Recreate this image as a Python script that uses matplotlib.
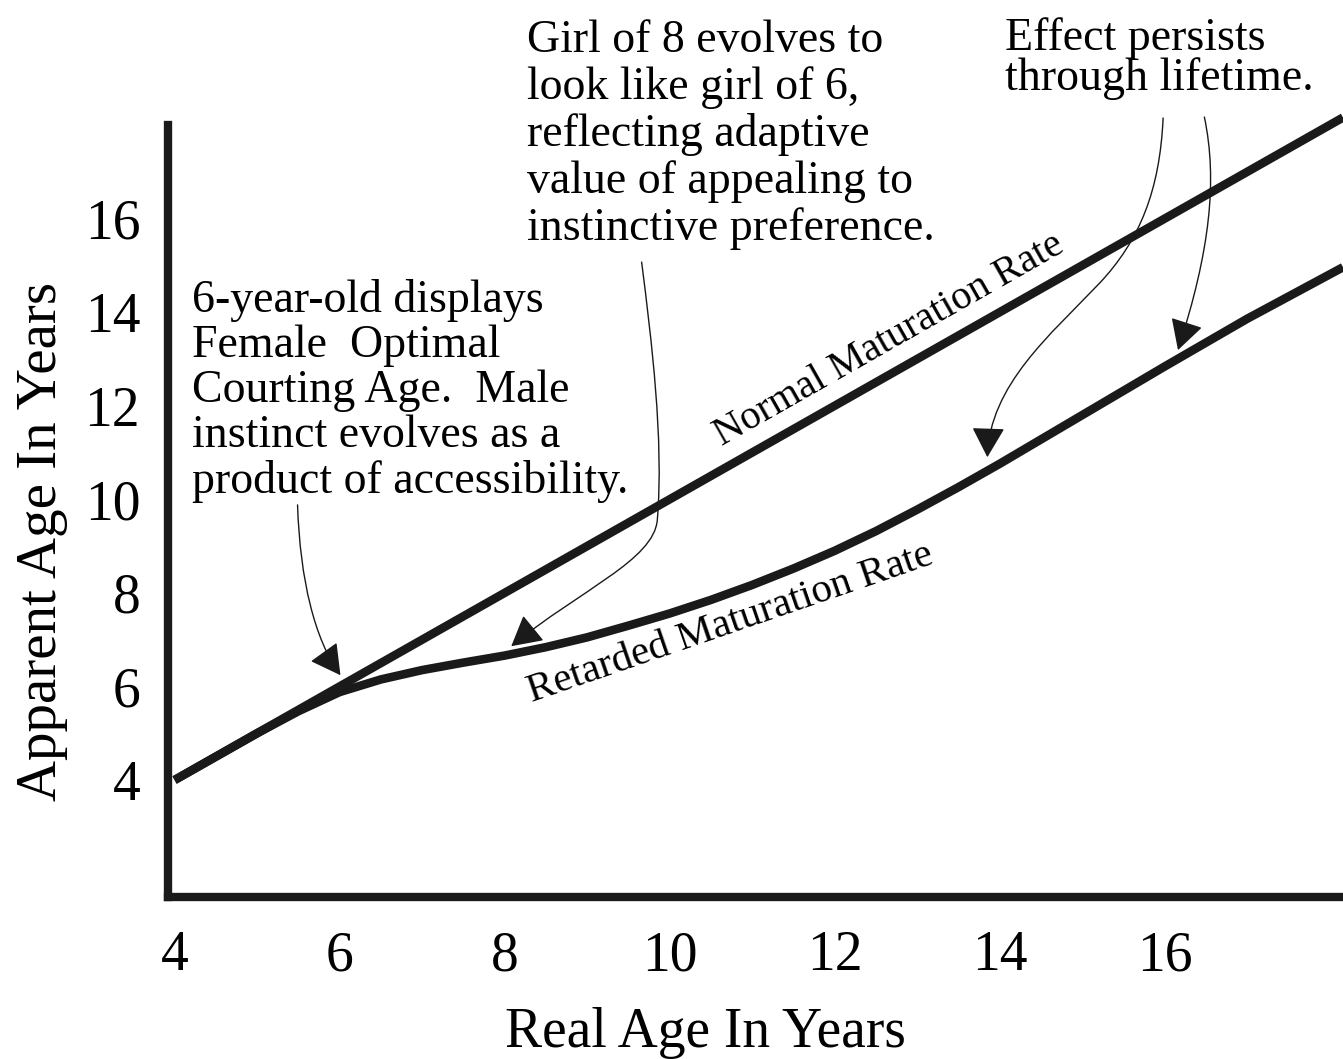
import matplotlib.pyplot as plt
from matplotlib.patches import FancyArrowPatch
from matplotlib.path import Path

plt.rcParams['font.family'] = ['Liberation Serif', 'DejaVu Serif']

# Normal maturation: apparent age tracks real age
normal_real = [4, 6, 8, 10, 12, 14, 16, 18.16]
normal_apparent = [4, 6, 8, 10, 12, 14, 16, 18.16]

# Retarded maturation: follows normal until ~6, then lags behind
retarded_real = [4, 5, 5.5, 6, 6.5, 7, 7.5, 8, 8.5, 9, 9.5, 10, 10.5, 11, 11.5,
                 12, 12.5, 13, 13.5, 14, 15, 16, 17, 18.16]
retarded_apparent = [4, 5, 5.47, 5.88, 6.15, 6.35, 6.51, 6.66, 6.84, 7.05, 7.3, 7.56,
                     7.85, 8.17, 8.52, 8.9, 9.32, 9.78, 10.26, 10.76, 11.8, 12.84,
                     13.86, 14.96]

ticks = [4, 6, 8, 10, 12, 14, 16]

W, H = 1343, 1059
fig = plt.figure(figsize=(W / 100, H / 100), dpi=100)
ax = fig.add_axes([168 / W, (H - 897) / H, (W - 168) / W, (897 - 125) / H])

ax.plot(normal_real, normal_apparent, color='#1a1a1a', lw=6.2, clip_on=False,
        solid_capstyle='butt')
ax.plot(retarded_real, retarded_apparent, color='#1a1a1a', lw=6.2, clip_on=False,
        solid_capstyle='butt', solid_joinstyle='round')

ax.set_xlim(3.92, 18.16)
ax.set_ylim(1.5, 18.0)
ax.set_xticks(ticks)
ax.set_yticks(ticks)
ax.tick_params(axis='both', length=0, labelsize=40)
ax.tick_params(axis='x', pad=24)
ax.tick_params(axis='y', pad=20)

for s in ['top', 'right']:
    ax.spines[s].set_visible(False)
for s in ['left', 'bottom']:
    ax.spines[s].set_linewidth(6)
    ax.spines[s].set_color('#1a1a1a')
    ax.spines[s].set_capstyle('projecting')

ax.set_xlabel('Real Age In Years', fontsize=40)
ax.xaxis.set_label_coords(0.457, -0.142)
ax.set_ylabel('Apparent Age In Years', fontsize=41)
ax.yaxis.set_label_coords(-0.085, 0.461)

# line labels
ax.annotate('Normal Maturation Rate', xy=(12.84, 12.84), xytext=(-4.3, 7.5),
            textcoords='offset points', fontsize=29, rotation=29.6,
            rotation_mode='anchor', ha='center', va='bottom')
ax.annotate('Retarded Maturation Rate', xy=(10.63, 7.91), xytext=(2.3, -6.8),
            textcoords='offset points', fontsize=29.5, rotation=19,
            rotation_mode='anchor', ha='center', va='top')

# annotation texts
fig.text(192 / W, 1 - 279 / H,
         '6-year-old displays\nFemale  Optimal\nCourting Age.  Male\n'
         'instinct evolves as a\nproduct of accessibility.',
         fontsize=33, va='top', ha='left', linespacing=1.08)
fig.text(527 / W, 1 - 20 / H,
         'Girl of 8 evolves to\nlook like girl of 6,\nreflecting adaptive\n'
         'value of appealing to\ninstinctive preference.',
         fontsize=33, va='top', ha='left', linespacing=1.12)
fig.text(1005 / W, 1 - 17 / H, 'Effect persists\nthrough lifetime.',
         fontsize=33, va='top', ha='left', linespacing=0.93)

# curved pointer arrows
C = Path.CURVE4
M = Path.MOVETO
arrows = [
    [(5.49, 9.88), (5.52, 8.27), (5.70, 7.0), (6.01, 6.24)],
    [(9.66, 15.07), (9.78, 13.40), (9.93, 11.26), (9.85, 9.56),
     (9.81, 8.70), (8.91, 8.06), (8.08, 6.86)],
    [(15.98, 18.15), (15.94, 16.61), (15.70, 15.54), (15.21, 14.62),
     (14.61, 13.51), (13.88, 12.44), (13.85, 10.90)],
    [(16.48, 18.17), (16.64, 16.82), (16.55, 15.32), (16.16, 13.19)],
]
for verts in arrows:
    codes = [M] + [C] * (len(verts) - 1)
    arr = FancyArrowPatch(path=Path(verts, codes),
                          arrowstyle='-|>,head_length=1.0,head_width=0.55',
                          mutation_scale=19, lw=1.0, color='#1a1a1a',
                          shrinkA=0, shrinkB=0, clip_on=False)
    ax.add_patch(arr)

fig.savefig('out.png', dpi=100)
